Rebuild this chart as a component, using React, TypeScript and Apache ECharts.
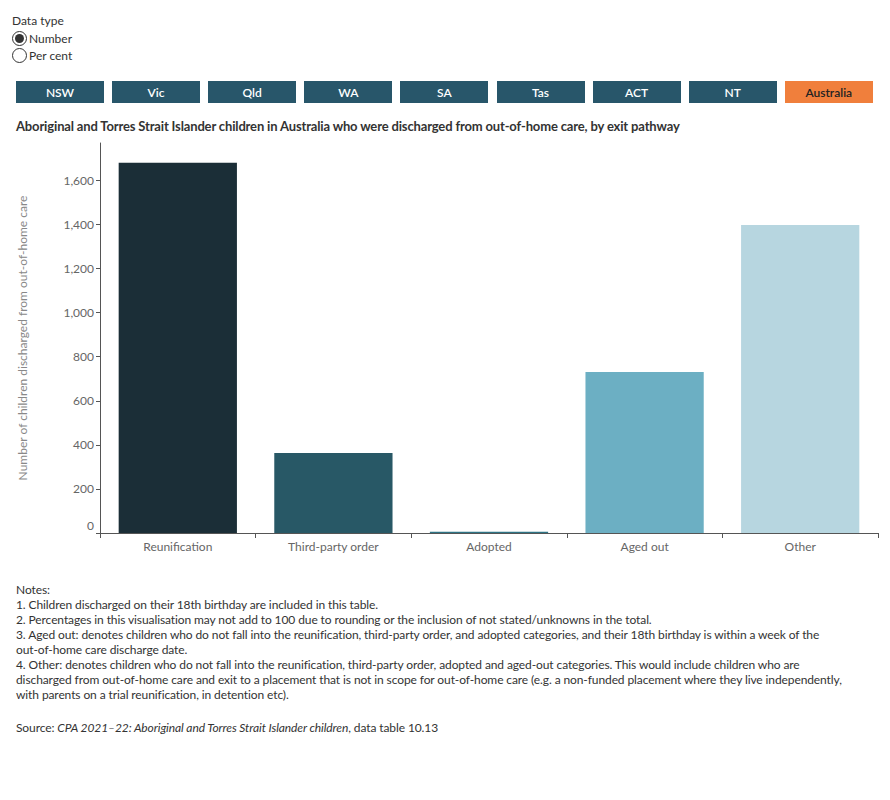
import React, { useEffect, useRef } from "react";
import * as echarts from "echarts";

const categories = ["Reunification", "Third-party order", "Adopted", "Aged out", "Other"];
const values = [1680, 363, 6, 731, 1398];
const barColors = ["#1B2E37", "#285866", "#2E7384", "#6CAFC3", "#B7D6E0"];
const stateButtons = ["NSW", "Vic", "Qld", "WA", "SA", "Tas", "ACT", "NT", "Australia"];
const noteLines = [
  "Notes:",
  "1. Children discharged on their 18th birthday are included in this table.",
  "2. Percentages in this visualisation may not add to 100 due to rounding or the inclusion of not stated/unknowns in the total.",
  "3. Aged out: denotes children who do not fall into the reunification, third-party order, and adopted categories, and their 18th birthday is within a week of the",
  "out-of-home care discharge date.",
  "4. Other: denotes children who do not fall into the reunification, third-party order, adopted and aged-out categories. This would include children who are",
  "discharged from out-of-home care and exit to a placement that is not in scope for out-of-home care (e.g. a non-funded placement where they live independently,",
  "with parents on a trial reunification, in detention etc).",
];

const FONT = "Lato, 'Open Sans', sans-serif";

export default function App() {
  const ref = useRef<HTMLDivElement>(null);
  useEffect(() => {
    if (!ref.current) return;
    const chart = echarts.init(ref.current, undefined, { renderer: "svg" });
    chart.setOption({
      animation: false,
      textStyle: { fontFamily: FONT },
      grid: { left: 100, right: 12, top: 143, bottom: 267 },
      xAxis: {
        type: "category",
        data: categories,
        axisLine: { lineStyle: { color: "#555", width: 1 } },
        axisTick: { show: true, length: 5, lineStyle: { color: "#555" } },
        axisLabel: { color: "#666", fontSize: 12, margin: 7, fontFamily: FONT },
      },
      yAxis: {
        type: "value",
        min: 0,
        max: 1770,
        interval: 200,
        name: "Number of children discharged from out-of-home care",
        nameLocation: "middle",
        nameGap: 72,
        nameTextStyle: { color: "#888", fontSize: 12, fontFamily: FONT },
        axisLine: { show: true, lineStyle: { color: "#555", width: 1 } },
        axisTick: { show: true, length: 4, lineStyle: { color: "#555" } },
        splitLine: { show: false },
        axisLabel: {
          color: "#666",
          fontSize: 12,
          margin: 6,
          showMaxLabel: false,
          fontFamily: FONT,
          formatter: (v: number) => (v === 0 ? "{z|0}" : v.toLocaleString("en-US")),
          rich: { z: { color: "#666", fontSize: 12, padding: [0, 0, 15, 0], fontFamily: FONT } },
        },
      },
      series: [
        {
          type: "bar",
          barCategoryGap: "24%",
          data: values.map((v, i) => ({ value: v, itemStyle: { color: barColors[i] } })),
        },
      ],
    });
    return () => chart.dispose();
  }, []);

  return (
    <div style={{ position: "absolute", left: 0, top: 0, width: 890, height: 800, fontFamily: FONT, background: "#fff" }}>
      <div ref={ref} style={{ position: "absolute", left: 0, top: 0, width: 890, height: 800 }} />
      <div style={{ position: "absolute", left: 12, top: 13, fontSize: 12, color: "#333" }}>Data type</div>
      {["Number", "Per cent"].map((t, i) => (
        <div key={t} style={{ position: "absolute", left: 12, top: 31 + i * 17, display: "flex", alignItems: "center", fontSize: 12, color: "#333" }}>
          <div style={{ width: 15, height: 15, borderRadius: 8, border: "1px solid #333", boxSizing: "border-box", display: "flex", alignItems: "center", justifyContent: "center", background: "#fff" }}>
            {i === 0 && <div style={{ width: 9, height: 9, borderRadius: 5, background: "#333" }} />}
          </div>
          <span style={{ marginLeft: 2 }}>{t}</span>
        </div>
      ))}
      {stateButtons.map((s, i) => (
        <div
          key={s}
          style={{
            position: "absolute",
            left: 16 + i * 96.1,
            top: 81,
            width: 88,
            height: 22,
            background: s === "Australia" ? "#F07F3C" : "#28566A",
            color: s === "Australia" ? "#222" : "#fff",
            fontSize: 12,
            fontWeight: 600,
            display: "flex",
            alignItems: "center",
            justifyContent: "center",
          }}
        >
          {s}
        </div>
      ))}
      <div style={{ position: "absolute", left: 16, top: 118, fontSize: 13, fontWeight: 700, color: "#333", letterSpacing: -0.15, whiteSpace: "nowrap" }}>
        Aboriginal and Torres Strait Islander children in Australia who were discharged from out-of-home care, by exit pathway
      </div>
      <div style={{ position: "absolute", left: 16, top: 582, fontSize: 12, lineHeight: "15px", color: "#333", whiteSpace: "nowrap", letterSpacing: -0.1 }}>
        {noteLines.map((n) => (
          <div key={n}>{n}</div>
        ))}
        <div style={{ marginTop: 18 }}>
          Source: <i>CPA 2021–22: Aboriginal and Torres Strait Islander children</i>, data table 10.13
        </div>
      </div>
    </div>
  );
}
